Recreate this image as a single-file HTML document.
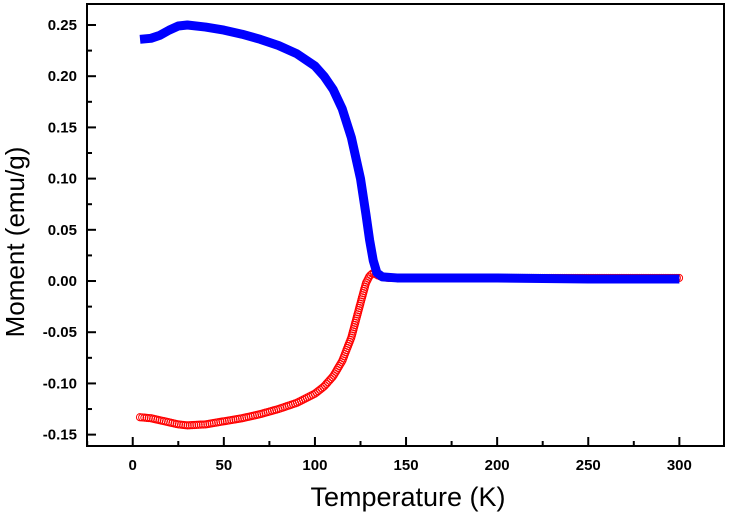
<!DOCTYPE html>
<html><head><meta charset="utf-8"><style>
body{margin:0;background:#fff}
svg{display:block;font-family:"Liberation Sans",Arial,sans-serif}
</style></head><body>
<svg id="chart" width="736" height="522" viewBox="0 0 736 522">
<rect width="736" height="522" fill="#fff"/>
<g id="plot"></g>
<text x="408" y="506" font-size="27" text-anchor="middle">Temperature (K)</text>
<text transform="translate(24,242) rotate(-90)" font-size="26" text-anchor="middle">Moment (emu/g)</text>
</svg>
<script>
const xTicks=[0,50,100,150,200,250,300];
const yTicks=[-0.15,-0.10,-0.05,0.00,0.05,0.10,0.15,0.20,0.25];
const fcT=[4,10,15,20,25,30,40,50,60,70,80,90,100,105,110,115,120,125,128,130,132,134,137,145,200,250,300];
const fcM=[0.236,0.237,0.240,0.245,0.249,0.250,0.248,0.245,0.241,0.236,0.230,0.222,0.210,0.200,0.187,0.168,0.140,0.100,0.065,0.040,0.020,0.008,0.004,0.003,0.003,0.002,0.002];
const zfcT=[4,10,20,25,30,40,50,60,70,80,90,100,105,110,115,120,123,126,128,130,132,135,140,200,300];
const zfcM=[-0.133,-0.134,-0.138,-0.140,-0.141,-0.140,-0.137,-0.134,-0.130,-0.125,-0.119,-0.110,-0.103,-0.093,-0.078,-0.055,-0.035,-0.015,-0.002,0.005,0.008,0.005,0.003,0.003,0.003];
const L=87,R=724,T=4,B=446;
const xMin=-25.1,xMax=324.5,yMin=-0.1611,yMax=0.2705;
const X=v=>L+(v-xMin)/(xMax-xMin)*(R-L);
const Y=v=>B-(v-yMin)/(yMax-yMin)*(B-T);
const NS='http://www.w3.org/2000/svg';
const g=document.getElementById('plot');
function mk(t,a){const e=document.createElementNS(NS,t);for(const k in a)e.setAttribute(k,a[k]);g.appendChild(e);return e;}
// red ZFC
const rd=zfcT.map((t,i)=>(i?'L':'M')+X(t)+','+Y(zfcM[i])).join('');
const rp=mk('path',{d:rd,fill:'none',stroke:'none'});


const len=rp.getTotalLength();
for(let s=0;s<=len;s+=2.2){const p=rp.getPointAtLength(s);
const c=mk('circle',{cx:p.x,cy:p.y,r:3.6,fill:'none',stroke:'#f00','stroke-width':1});

}
// blue FC
const bd=fcT.map((t,i)=>(i?'L':'M')+X(t)+','+Y(fcM[i])).join('');
const bp=mk('path',{d:bd,fill:'none',stroke:'#0000ff','stroke-width':9,'stroke-linejoin':'round'});


// frame
const fr=mk('rect',{x:L,y:T,width:R-L,height:B-T,fill:'none',stroke:'#000','stroke-width':2});


xTicks.forEach(v=>{const x=X(v);
const tk=mk('line',{x1:x,x2:x,y1:B,y2:B-9,stroke:'#000','stroke-width':2});


if(v+25<xMax){const m=mk('line',{x1:X(v+25),x2:X(v+25),y1:B,y2:B-5,stroke:'#000','stroke-width':2});

}
const tx=mk('text',{x:x,y:B+24,'font-size':15,'font-weight':'bold','text-anchor':'middle'});tx.textContent=v;

});
const m0=mk('line',{x1:X(-25),x2:X(-25),y1:B,y2:B-5,stroke:'#000','stroke-width':2});


yTicks.forEach(v=>{const y=Y(v);
const tk=mk('line',{x1:L,x2:L+9,y1:y,y2:y,stroke:'#000','stroke-width':2});


if(v-0.025>yMin){const m=mk('line',{x1:L,x2:L+5,y1:Y(v-0.025),y2:Y(v-0.025),stroke:'#000','stroke-width':2});

}
const tx=mk('text',{x:L-10,y:y+5,'font-size':15,'font-weight':'bold','text-anchor':'end'});tx.textContent=v.toFixed(2);

});
const mt=mk('line',{x1:L,x2:L+5,y1:Y(0.275),y2:Y(0.275),stroke:'none'});
</script>
</body></html>
